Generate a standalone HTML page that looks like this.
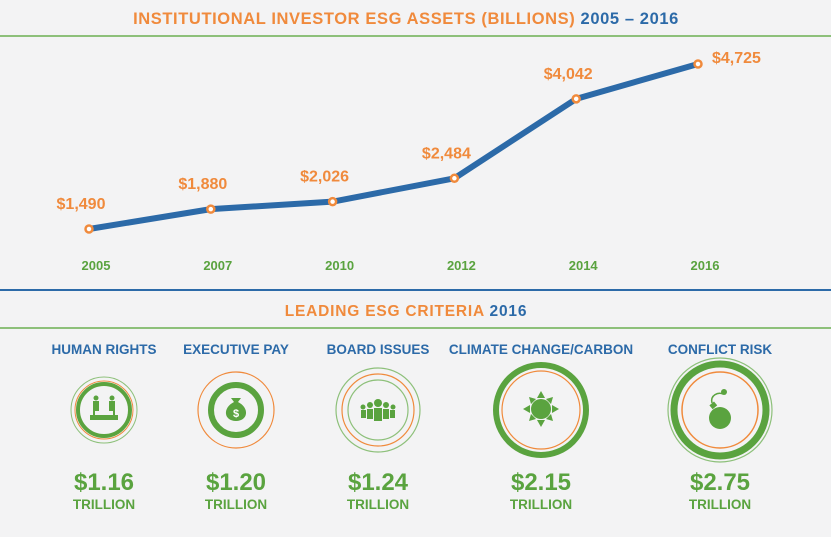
<!DOCTYPE html>
<html><head><meta charset="utf-8"><style>
body{margin:0;width:831px;height:537px;background:#f3f3f4;font-family:"Liberation Sans",sans-serif;overflow:hidden}
svg{display:block}
</style></head><body>
<svg width="831" height="537" viewBox="0 0 831 537">
<text x="406" y="24" text-anchor="middle" font-size="16.5" font-weight="bold" letter-spacing="0.6"><tspan fill="#f08a3c">INSTITUTIONAL INVESTOR ESG ASSETS (BILLIONS)</tspan><tspan fill="#2c6aa8"> 2005 – 2016</tspan></text>
<line x1="0" y1="36" x2="831" y2="36" stroke="#8dc07a" stroke-width="2"/>
<g id="chart"></g>
<line x1="0" y1="290" x2="831" y2="290" stroke="#2c6aa8" stroke-width="2"/>
<text x="406" y="316" text-anchor="middle" font-size="15.5" font-weight="bold" letter-spacing="0.8"><tspan fill="#f08a3c">LEADING ESG CRITERIA</tspan><tspan fill="#2c6aa8">  2016</tspan></text>
<line x1="0" y1="328" x2="831" y2="328" stroke="#8dc07a" stroke-width="2"/>
<g id="criteria"></g>
</svg>
<script>
const years=["2005","2007","2010","2012","2014","2016"];
const assets=[1490,1880,2026,2484,4042,4725];
const valueLabels=["$1,490","$1,880","$2,026","$2,484","$4,042","$4,725"];
const criteriaNames=["HUMAN RIGHTS","EXECUTIVE PAY","BOARD ISSUES","CLIMATE CHANGE/CARBON","CONFLICT RISK"];
const criteriaValues=[1.16,1.20,1.24,2.15,2.75];
const NS="http://www.w3.org/2000/svg";
function mk(t,a,p){const e=document.createElementNS(NS,t);for(const k in a)e.setAttribute(k,a[k]);p.appendChild(e);return e;}
const xS=i=>89+i*121.8;
const yS=v=>229-(v-1490)*(165/3235);
const g=document.getElementById('chart');
const pts=assets.map((v,i)=>xS(i)+","+yS(v)).join(" ");
const line=mk('polyline',{points:pts,fill:"none",stroke:"#2c6aa8","stroke-width":6,"stroke-linejoin":"round"},g);


assets.forEach((v,i)=>{
 const x=xS(i),y=yS(v);
 const c=mk('circle',{cx:x,cy:y,r:3.5,fill:"#fff",stroke:"#f08a3c","stroke-width":2.5},g);
 
 
 const last=i===assets.length-1;
 const t=mk('text',{x:last?x+14:x-8,y:last?y-1:y-20,"text-anchor":last?"start":"middle","font-size":16,"font-weight":"bold",fill:"#f08a3c"},g);
 t.textContent=valueLabels[i];
 
 
 const yl=mk('text',{x:x+7,y:270,"text-anchor":"middle","font-size":13,"font-weight":"bold",fill:"#5aa33f"},g);
 yl.textContent=years[i];
 
 
});
const cg=document.getElementById('criteria');
const cx=[104,236,378,541,720];
const rings=[
 [[33,"#8dc07a",1],[29,"#f08a3c",1],[26,"#5aa33f",4]],
 [[38,"#f08a3c",1.2],[25,"#5aa33f",6]],
 [[42,"#8dc07a",1.2],[36,"#f08a3c",1.2],[30,"#8dc07a",1.2]],
 [[45,"#5aa33f",6],[39,"#f08a3c",1.2]],
 [[52,"#8dc07a",1.2],[46,"#5aa33f",7],[38,"#f08a3c",1.5]]
];
const G="#5aa33f";
const icons=[
 x=>`<rect x="${x-14}" y="415" width="28" height="5" fill="${G}"/><circle cx="${x-8}" cy="398" r="2.5" fill="${G}"/><rect x="${x-11}" y="401" width="6" height="10" fill="${G}"/><circle cx="${x+8}" cy="398" r="2.5" fill="${G}"/><rect x="${x+5}" y="401" width="6" height="10" fill="${G}"/><rect x="${x-11}" y="411" width="2" height="4" fill="${G}"/><rect x="${x+9}" y="411" width="2" height="4" fill="${G}"/>`,
 x=>`<path d="M${x-5} 398 L${x+5} 398 L${x+2} 402 C${x+14} 408 ${x+12} 421 ${x} 421 C${x-12} 421 ${x-14} 408 ${x-2} 402Z" fill="${G}"/><text x="${x}" y="417" text-anchor="middle" font-size="11" font-weight="bold" fill="#fff">$</text>`,
 x=>`<circle cx="${x}" cy="403" r="4" fill="${G}"/><rect x="${x-4}" y="408" width="8" height="13" fill="${G}"/><circle cx="${x-8}" cy="405" r="3" fill="${G}"/><rect x="${x-11}" y="409" width="6" height="10" fill="${G}"/><circle cx="${x+8}" cy="405" r="3" fill="${G}"/><rect x="${x+5}" y="409" width="6" height="10" fill="${G}"/><circle cx="${x-15}" cy="407" r="2.5" fill="${G}"/><rect x="${x-17}" y="410" width="5" height="8" fill="${G}"/><circle cx="${x+15}" cy="407" r="2.5" fill="${G}"/><rect x="${x+12}" y="410" width="5" height="8" fill="${G}"/>`,
 x=>`<circle cx="${x}" cy="409" r="10" fill="${G}"/><polygon points="${x},391 ${x+4},398 ${x-4},398" fill="${G}"/><polygon points="${x},427 ${x+4},420 ${x-4},420" fill="${G}"/><polygon points="${x-18},409 ${x-11},405 ${x-11},413" fill="${G}"/><polygon points="${x+18},409 ${x+11},405 ${x+11},413" fill="${G}"/><polygon points="${x-12},397 ${x-5},399 ${x-10},404" fill="${G}"/><polygon points="${x+12},397 ${x+5},399 ${x+10},404" fill="${G}"/><polygon points="${x-12},421 ${x-5},419 ${x-10},414" fill="${G}"/><polygon points="${x+12},421 ${x+5},419 ${x+10},414" fill="${G}"/>`,
 x=>`<circle cx="${x}" cy="418" r="11" fill="${G}"/><rect x="${x-10}" y="403" width="6" height="5" fill="${G}" transform="rotate(-40 ${x-7} 405)"/><path d="M${x-8} 403 C${x-10} 395 ${x-2} 392 ${x+3} 394" stroke="${G}" stroke-width="1.5" fill="none"/><circle cx="${x+4}" cy="392" r="3" fill="${G}"/>`
];
criteriaNames.forEach((n,i)=>{
 const x=cx[i];
 const grp=mk('g',{},cg);
 
 
 const t=mk('text',{x:x,y:354,"text-anchor":"middle","font-size":13.5,"font-weight":"bold",fill:"#2c6aa8"},grp);
 t.textContent=n;
 
 
 rings[i].forEach(r=>{const c=mk('circle',{cx:x,cy:410,r:r[0],fill:"none",stroke:r[1],"stroke-width":r[2]},grp);
  
  });
 const ic=mk('g',{},grp);ic.innerHTML=icons[i](x);
 
 
 const v=mk('text',{x:x,y:490,"text-anchor":"middle","font-size":24,"font-weight":"bold",fill:G},grp);
 v.textContent="$"+criteriaValues[i].toFixed(2);
 
 
 const u=mk('text',{x:x,y:509,"text-anchor":"middle","font-size":13.5,"font-weight":"bold",fill:G},grp);
 u.textContent="TRILLION";
 
 
});
</script>
</body></html>
